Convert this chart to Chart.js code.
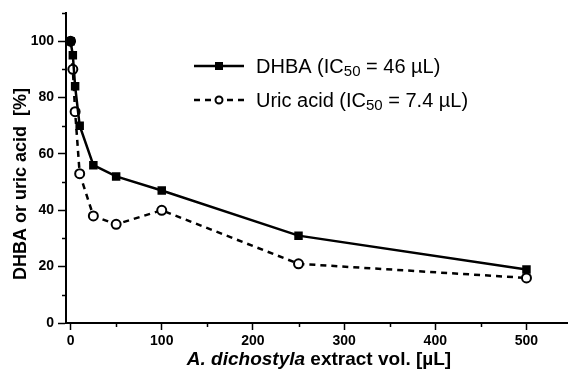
<!DOCTYPE html>
<html>
<head>
<meta charset="utf-8">
<script src="https://cdn.jsdelivr.net/npm/chart.js@4.4.0/dist/chart.umd.min.js"></script>
<style>
  html, body { margin: 0; padding: 0; background: #fff; }
  #wrap { width: 574px; height: 372px; }
</style>
</head>
<body>
<div id="wrap"><canvas id="chart" width="574" height="372"></canvas></div>
<script>
// Data
const extractVol = [0, 2.5, 5, 10, 25, 50, 100, 250, 500];
const dhbaValues = [100, 95, 84, 70, 56, 52, 47, 31, 19];
const uricValues = [100, 90, 75, 53, 38, 35, 40, 21, 16];

const xMajorTicks = [0, 100, 200, 300, 400, 500];
const xMinorTicks = [50, 150, 250, 350, 450];
const yMajorTicks = [0, 20, 40, 60, 80, 100];
const yMinorTicks = [10, 30, 50, 70, 90, 110];

const legendLabels = [
    { name: 'DHBA (IC', sub: '50', rest: ' = 46 \u00b5L)' },
    { name: 'Uric acid (IC', sub: '50', rest: ' = 7.4 \u00b5L)' }
];
const xTitle = [{ text: 'A. dichostyla', italic: true }, { text: ' extract vol. [\u00b5L]', italic: false }];
const yTitle = 'DHBA or uric acid  [%]';

const FONT = '"Liberation Sans", Arial, sans-serif';

function toPoints(xs, ys) {
    return xs.map((x, i) => ({ x: x, y: ys[i] }));
}

// Minor ticks, axis titles and legend
const extrasPlugin = {
    id: 'extras',
    afterDraw(chart) {
        const ctx = chart.ctx;
        const xs = chart.scales.x;
        const ys = chart.scales.y;
        const area = chart.chartArea;
        ctx.save();
        ctx.strokeStyle = '#000';
        ctx.lineWidth = 1.5;
        // minor ticks
        xMinorTicks.forEach(v => {
            const px = Math.round(xs.getPixelForValue(v)) + 0.5;
            ctx.beginPath();
            ctx.moveTo(px, area.bottom);
            ctx.lineTo(px, area.bottom + 4);
            ctx.stroke();
        });
        yMinorTicks.forEach(v => {
            const py = Math.round(ys.getPixelForValue(v)) + 0.5;
            ctx.beginPath();
            ctx.moveTo(area.left, py);
            ctx.lineTo(area.left - 4, py);
            ctx.stroke();
        });

        // x title (mixed italic / bold)
        ctx.fillStyle = '#000';
        ctx.textBaseline = 'middle';
        ctx.textAlign = 'left';
        let total = 0;
        xTitle.forEach(p => {
            ctx.font = (p.italic ? 'italic ' : '') + 'bold 19px ' + FONT;
            total += ctx.measureText(p.text).width;
        });
        let tx = 319 - total / 2;
        xTitle.forEach(p => {
            ctx.font = (p.italic ? 'italic ' : '') + 'bold 19px ' + FONT;
            ctx.fillText(p.text, tx, 360);
            tx += ctx.measureText(p.text).width;
        });

        // y title
        ctx.save();
        ctx.translate(21, 184);
        ctx.rotate(-Math.PI / 2);
        ctx.textAlign = 'center';
        ctx.font = 'bold 18px ' + FONT;
        ctx.fillText(yTitle, 0, 0);
        ctx.restore();

        // legend
        const rows = [66, 100];
        chart.data.datasets.forEach((ds, i) => {
            const y = rows[i];
            ctx.save();
            ctx.strokeStyle = '#000';
            ctx.lineWidth = 2.5;
            ctx.setLineDash(ds.borderDash || []);
            ctx.beginPath();
            ctx.moveTo(194, y);
            ctx.lineTo(244, y);
            ctx.stroke();
            ctx.setLineDash([]);
            if (ds.pointStyle === 'rect') {
                ctx.fillStyle = '#000';
                ctx.fillRect(215, y - 4, 8, 8);
            } else {
                ctx.fillStyle = '#fff';
                ctx.lineWidth = 2;
                ctx.beginPath();
                ctx.arc(219, y, 3.5, 0, Math.PI * 2);
                ctx.fill();
                ctx.stroke();
            }
            ctx.restore();

            const lbl = legendLabels[i];
            let lx = 256;
            ctx.fillStyle = '#000';
            ctx.font = '20px ' + FONT;
            ctx.fillText(lbl.name, lx, y + 1);
            lx += ctx.measureText(lbl.name).width;
            ctx.font = '15px ' + FONT;
            ctx.fillText(lbl.sub, lx, y + 6);
            lx += ctx.measureText(lbl.sub).width;
            ctx.font = '20px ' + FONT;
            ctx.fillText(lbl.rest, lx, y + 1);
        });
        ctx.restore();
    }
};

new Chart(document.getElementById('chart'), {
    type: 'scatter',
    data: {
        datasets: [{
            label: 'DHBA',
            data: toPoints(extractVol, dhbaValues),
            showLine: true,
            borderColor: '#000',
            borderWidth: 2.5,
            pointStyle: 'rect',
            pointRadius: 6,
            pointBackgroundColor: '#000',
            pointBorderColor: '#000',
            pointBorderWidth: 0,
            order: 1
        }, {
            label: 'Uric acid',
            data: toPoints(extractVol, uricValues),
            showLine: true,
            borderColor: '#000',
            borderWidth: 2.5,
            borderDash: [6, 5],
            pointStyle: 'circle',
            pointRadius: 4.5,
            pointBackgroundColor: '#fff',
            pointBorderColor: '#000',
            pointBorderWidth: 2,
            order: 2
        }]
    },
    options: {
        responsive: false,
        animation: false,
        layout: { padding: { top: 13, right: 2, left: 0, bottom: 0 } },
        plugins: {
            legend: { display: false },
            tooltip: { enabled: false }
        },
        scales: {
            x: {
                type: 'linear',
                min: -5,
                max: 545,
                afterBuildTicks: scale => { scale.ticks = xMajorTicks.map(v => ({ value: v })); },
                afterFit: scale => { scale.height = 49; scale.paddingLeft = 0; scale.paddingRight = 0; },
                border: { display: true, color: '#000', width: 2 },
                grid: { drawOnChartArea: false, drawTicks: true, tickLength: 7, tickColor: '#000', tickWidth: 1.5 },
                ticks: { color: '#000', padding: 3, maxRotation: 0, font: { family: FONT, size: 14, weight: 'bold' } }
            },
            y: {
                type: 'linear',
                min: 0,
                max: 110,
                afterBuildTicks: scale => { scale.ticks = yMajorTicks.map(v => ({ value: v })); },
                afterFit: scale => { scale.width = 66; scale.paddingTop = 0; scale.paddingBottom = 0; },
                border: { display: true, color: '#000', width: 2 },
                grid: { drawOnChartArea: false, drawTicks: true, tickLength: 8, tickColor: '#000', tickWidth: 1.5 },
                ticks: { color: '#000', padding: 4, font: { family: FONT, size: 14, weight: 'bold' } }
            }
        }
    },
    plugins: [extrasPlugin]
});
</script>
</body>
</html>
